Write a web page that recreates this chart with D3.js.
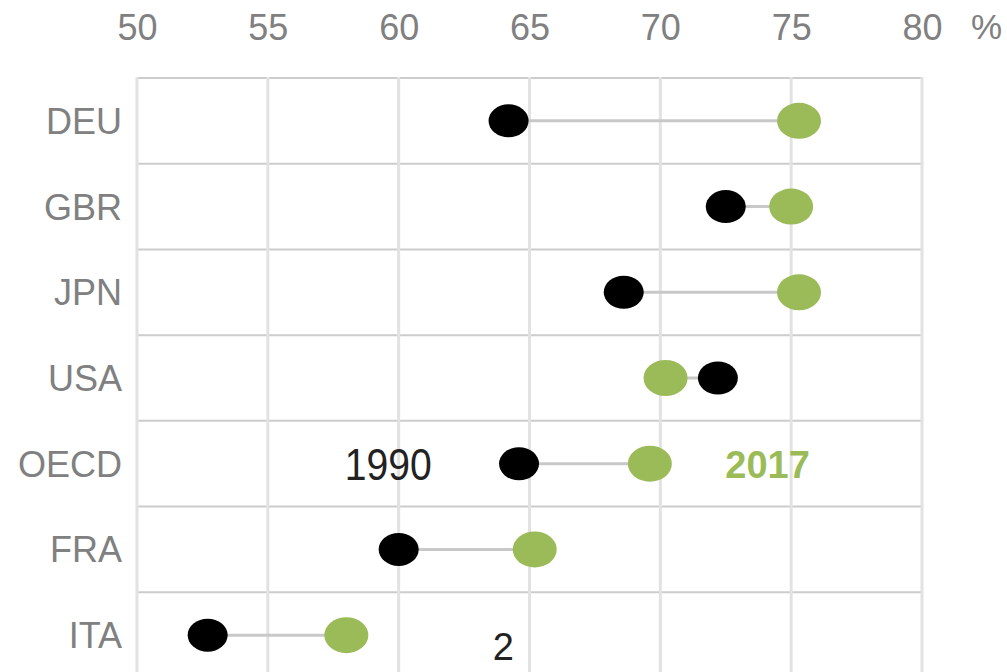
<!DOCTYPE html>
<html>
<head>
<meta charset="utf-8">
<script src="https://cdn.jsdelivr.net/npm/d3@7"></script>
<style>
  html, body { margin: 0; padding: 0; background: #fff; }
  svg { display: block; font-family: Arial, "Liberation Sans", Helvetica, sans-serif; }
</style>
</head>
<body>
<svg id="chart" width="1007" height="672"></svg>
<script>
const countries = ["DEU", "GBR", "JPN", "USA", "OECD", "FRA", "ITA"];
const values1990 = [64.2, 72.5, 68.6, 72.2, 64.6, 60.0, 52.7];
const values2017 = [75.3, 75.0, 75.3, 70.2, 69.6, 65.2, 58.0];
const xTicks = [50, 55, 60, 65, 70, 75, 80];
const unitLabel = "%";
const label1990 = { text: "1990", value: 59.6, row: "OECD" };
const label2017 = { text: "2017", value: 74.1, row: "OECD" };
const footnote = { text: "2", value: 64.0, row: "ITA" };

const svg = d3.select("#chart");
const x = d3.scaleLinear().domain([50, 80]).range([137, 922]);
const y = d3.scaleBand().domain(countries).range([78, 678]).padding(0);
const cy = d => y(d) + y.bandwidth() / 2;

const green = "#9bbb59";

// horizontal row borders
const rowEdges = countries.map(c => y(c)).concat([y(countries[countries.length - 1]) + y.bandwidth()]);
svg.append("g").selectAll("line").data(rowEdges).join("line")
  .attr("x1", x(50)).attr("x2", x(80))
  .attr("y1", d => d).attr("y2", d => d)
  .attr("stroke", "#cccccc").attr("stroke-width", 2);

// vertical grid lines
svg.append("g").selectAll("line").data(xTicks).join("line")
  .attr("x1", d => x(d)).attr("x2", d => x(d))
  .attr("y1", 77).attr("y2", 680)
  .attr("stroke", "#e2e2e2").attr("stroke-width", 3);

// top axis
const axis = d3.axisTop(x).tickValues(xTicks).tickSize(0).tickPadding(0).tickFormat(d3.format("d"));
const gAxis = svg.append("g").attr("transform", "translate(0,40)").call(axis);
gAxis.select(".domain").remove();
gAxis.selectAll("text")
  .attr("font-size", 36).attr("fill", "#808080")
  .attr("font-family", "Arial, 'Liberation Sans', sans-serif")
  .attr("dy", 0).attr("y", 0);
svg.append("text").attr("x", 971).attr("y", 39)
  .attr("font-size", 35).attr("fill", "#808080").text(unitLabel);

// category labels
svg.append("g").selectAll("text").data(countries).join("text")
  .attr("x", 122).attr("y", d => cy(d) + 13)
  .attr("text-anchor", "end")
  .attr("font-size", 36).attr("fill", "#808080")
  .text(d => d);

// connectors
const rows = countries.map((c, i) => ({ c, a: values1990[i], b: values2017[i] }));
svg.append("g").selectAll("line").data(rows).join("line")
  .attr("x1", d => x(d.a)).attr("x2", d => x(d.b))
  .attr("y1", d => cy(d.c)).attr("y2", d => cy(d.c))
  .attr("stroke", "#c8c8c8").attr("stroke-width", 3);

// 1990 dots
svg.append("g").selectAll("ellipse").data(rows).join("ellipse")
  .attr("cx", d => x(d.a)).attr("cy", d => cy(d.c))
  .attr("rx", 20).attr("ry", 16.5).attr("fill", "#000");

// 2017 dots
svg.append("g").selectAll("ellipse").data(rows).join("ellipse")
  .attr("cx", d => x(d.b)).attr("cy", d => cy(d.c))
  .attr("rx", 22).attr("ry", 18).attr("fill", green);

// annotation labels
svg.append("text").attr("x", x(label1990.value)).attr("y", cy(label1990.row) + 16)
  .attr("text-anchor", "middle").attr("font-size", 44).attr("fill", "#222")
  .attr("textLength", 87).attr("lengthAdjust", "spacingAndGlyphs")
  .text(label1990.text);
svg.append("text").attr("x", x(label2017.value)).attr("y", cy(label2017.row) + 14)
  .attr("text-anchor", "middle").attr("font-size", 38).attr("font-weight", "bold").attr("fill", green)
  .text(label2017.text);
svg.append("text").attr("x", x(footnote.value)).attr("y", cy(footnote.row) + 25)
  .attr("text-anchor", "middle").attr("font-size", 38).attr("fill", "#222")
  .text(footnote.text);
</script>
</body>
</html>
